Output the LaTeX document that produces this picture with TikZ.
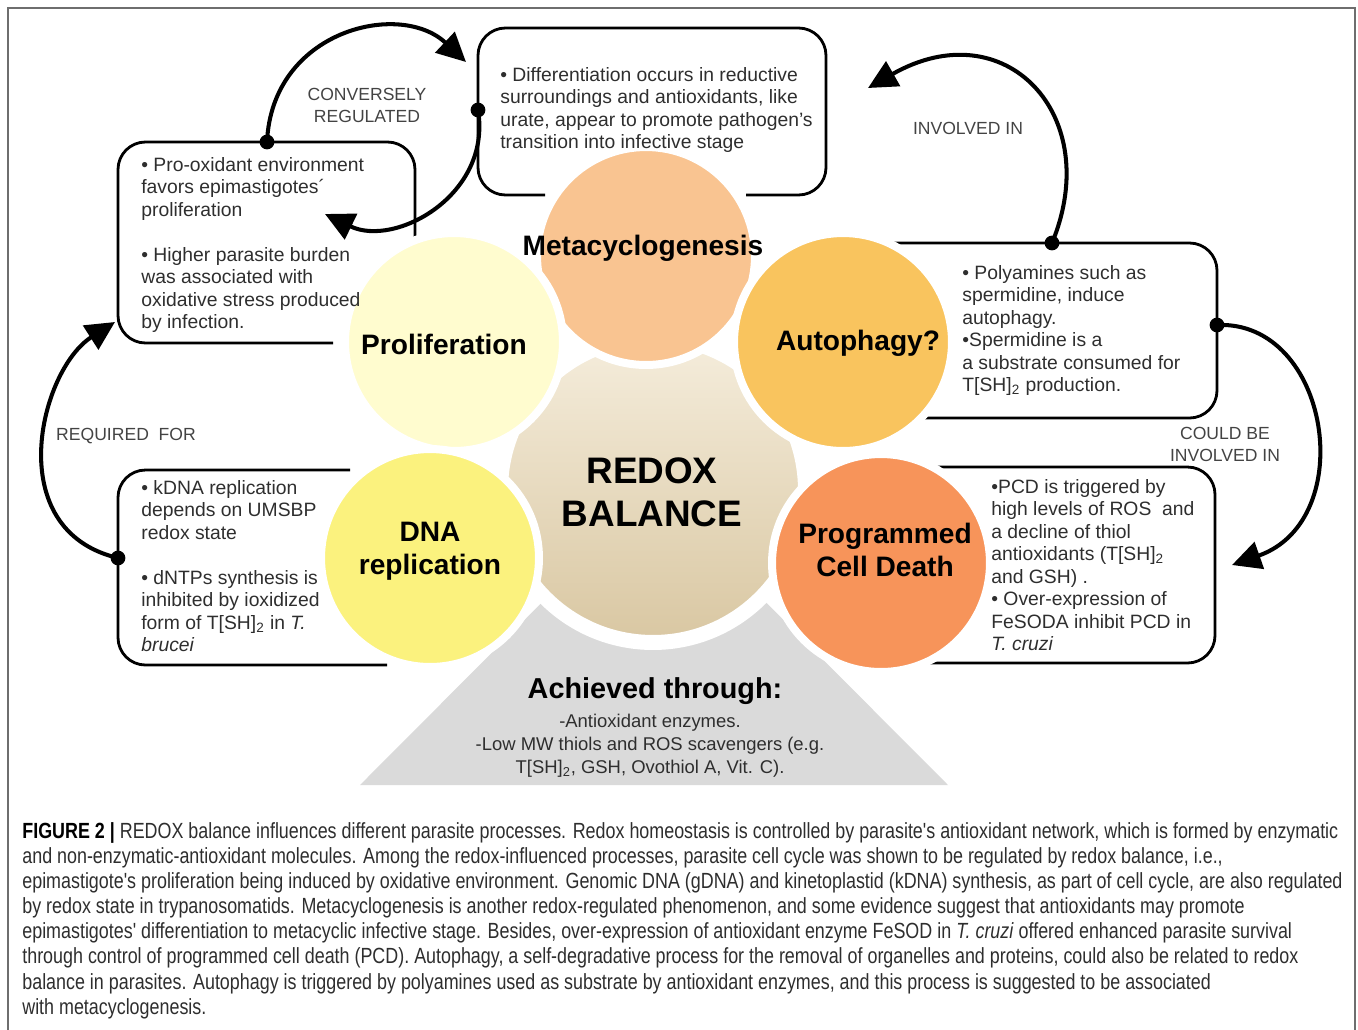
\documentclass[tikz,border=0pt]{standalone}
\usepackage{fontspec}
\setmainfont{Liberation Sans}
\newfontfamily\capfont[FakeStretch=0.815]{Liberation Sans}
\usetikzlibrary{arrows.meta,positioning,shapes.geometric}
\definecolor{metacol}{HTML}{F9C491}
\definecolor{procol}{HTML}{FFFCCF}
\definecolor{autocol}{HTML}{F9C45E}
\definecolor{dnacol}{HTML}{FBF27E}
\definecolor{pcdcol}{HTML}{F7945A}
\definecolor{redoxtop}{HTML}{F5EDDC}
\definecolor{redoxbottom}{HTML}{D9C7A2}
\definecolor{basegray}{HTML}{DADADA}
\definecolor{framegray}{HTML}{6E6E6E}
\definecolor{inkgray}{HTML}{2E2E2E}
\tikzset{>={Triangle[length=0.58cm,width=0.56cm]}}
\tikzset{process/.style={circle,draw=white,line width=0.16cm,minimum size=4.36cm,inner sep=0pt}}
\tikzset{processlabel/.style={align=center,inner sep=0pt,font=\fontsize{16}{18.8}\selectfont\bfseries}}
\tikzset{infotext/.style={anchor=north west,align=left,inner sep=0pt,text=inkgray,font=\fontsize{11}{12.8}\selectfont}}
\tikzset{linklabel/.style={align=center,inner sep=0pt,text=inkgray!90,font=\fontsize{10}{12.5}\selectfont}}
\tikzset{boxline/.style={line width=1.6pt,rounded corners=0.55cm}}
\tikzset{linkarrow/.style={->,line width=2.3pt}}

\begin{document}
\begin{tikzpicture}[x=0.02cm,y=-0.02cm]
\useasboundingbox (0,0) rectangle (1358,1029);
\draw[framegray,line width=1.5pt] (8,1040) -- (8,8) -- (1355,8) -- (1355,1040);

\fill[basegray] (360,785) -- (948,785) -- (654,490) -- cycle;
\node[circle,draw=white,line width=0.3cm,minimum size=6.1cm,top color=redoxtop,bottom color=redoxbottom] (redox) at (653,490) {};

\draw[boxline] (545,195) -- (478,195) -- (478,28) -- (826,28) -- (826,195) -- (746,195);
\draw[boxline] (333,343) -- (118,343) -- (118,142) -- (415,142) -- (415,237);
\draw[boxline] (350,470) -- (118,470) -- (118,665) -- (387,665);
\draw[boxline] (880,243) -- (1217,243) -- (1217,418) -- (912,418);
\draw[boxline] (933,467) -- (1215,467) -- (1215,663) -- (907,663);

\node[process,fill=metacol] (meta) at (646,256) {};
\node[process,fill=procol] (prolif) at (454,342) {};
\node[process,fill=autocol] (auto) at (843,342) {};
\node[process,fill=dnacol] (dna) at (430,558) {};
\node[process,fill=pcdcol] (pcd) at (881,563) {};

\node[processlabel] (metalab) at (643,248) {Metacyclogenesis};
\node[processlabel] (prolab) at (444,344) {Proliferation};
\node[processlabel] (autolab) at (858,343) {Autophagy?};
\node[processlabel] (dnalab) at (430,551) {DNA\\replication};
\node[processlabel] (pcdlab) at (885,550) {Programmed\\Cell Death};
\node[align=center,inner sep=0pt,font=\fontsize{21}{24.4}\selectfont\bfseries] (redoxlab) at (652,492) {REDOX\\BALANCE};

\node[inner sep=0pt,font=\fontsize{16.4}{19}\selectfont\bfseries] (achieved) at (655,691) {Achieved through:};
\node[align=center,inner sep=0pt,text=inkgray,font=\fontsize{10.5}{13}\selectfont] (means) at (650,746) {-Antioxidant enzymes.\\-Low MW thiols and ROS scavengers (e.g.\\T[SH]\textsubscript{2}, GSH, Ovothiol A, Vit. C).};

\node[infotext] (metatext) at (500,67) {• Differentiation occurs in reductive\\surroundings and antioxidants, like\\urate, appear to promote pathogen's\\transition into infective stage};
\node[infotext] (protext) at (141,157) {• Pro-oxidant environment\\favors epimastigotes´\\proliferation\\[12.8pt]• Higher parasite burden\\was associated with\\oxidative stress produced\\by infection.};
\node[infotext] (autotext) at (962,265) {• Polyamines such as\\spermidine, induce\\autophagy.\\•Spermidine is a\\a substrate consumed for\\T[SH]\textsubscript{2} production.};
\node[infotext] (pcdtext) at (991,479) {•PCD is triggered by\\high levels of ROS\ \ and\\a decline of thiol\\antioxidants (T[SH]\textsubscript{2}\\and GSH)\ .\\• Over-expression of\\FeSODA inhibit PCD in\\\textit{T. cruzi}};
\node[infotext] (dnatext) at (141,480) {• kDNA replication\\depends on UMSBP\\redox state\\[12.8pt]• dNTPs synthesis is\\inhibited by ioxidized\\form of T[SH]\textsubscript{2} in \textit{T.}\\\textit{brucei}};

\node[linklabel] (convlab) at (367,105) {CONVERSELY\\REGULATED};
\node[linklabel] (invlab) at (968,128) {INVOLVED IN};
\node[linklabel] (couldlab) at (1225,444) {COULD BE\\INVOLVED IN};
\node[linklabel] (reqlab) at (126,436) {REQUIRED\ \ FOR};

\coordinate (convA) at (267,142);
\coordinate (convAtip) at (466,62);
\coordinate (convB) at (478,110);
\coordinate (convBtip) at (325,214);
\coordinate (invA) at (1052,243);
\coordinate (invAtip) at (868,88);
\coordinate (couldA) at (1217,325);
\coordinate (couldAtip) at (1232,565);
\coordinate (reqA) at (118,558);
\coordinate (reqAtip) at (115,322);
\draw[linkarrow] (convA) .. controls (272,30) and (400,0) .. (convAtip);
\draw[linkarrow] (convB) .. controls (492,195) and (395,248) .. (convBtip);
\draw[linkarrow] (invA) .. controls (1105,115) and (1005,10) .. (invAtip);
\draw[linkarrow] (couldA) .. controls (1330,320) and (1360,520) .. (couldAtip);
\draw[linkarrow] (reqA) .. controls (0,530) and (40,370) .. (reqAtip);
\foreach \dot in {convA,convB,invA,couldA,reqA}
  \fill (\dot) circle[radius=4.2pt];

\node[anchor=north west,align=left,inner sep=0pt,text=inkgray,font=\capfont\fontsize{12.5}{14.3}\selectfont] (caption) at (22,822)
{\textcolor{black}{\textbf{FIGURE 2 |}} REDOX balance influences different parasite processes. Redox homeostasis is controlled by parasite's antioxidant network, which is formed by enzymatic\\
and non-enzymatic-antioxidant molecules. Among the redox-influenced processes, parasite cell cycle was shown to be regulated by redox balance, i.e.,\\
epimastigote's proliferation being induced by oxidative environment. Genomic DNA (gDNA) and kinetoplastid (kDNA) synthesis, as part of cell cycle, are also regulated\\
by redox state in trypanosomatids. Metacyclogenesis is another redox-regulated phenomenon, and some evidence suggest that antioxidants may promote\\
epimastigotes' differentiation to metacyclic infective stage. Besides, over-expression of antioxidant enzyme FeSOD in \textit{T. cruzi} offered enhanced parasite survival\\
through control of programmed cell death (PCD). Autophagy, a self-degradative process for the removal of organelles and proteins, could also be related to redox\\
balance in parasites. Autophagy is triggered by polyamines used as substrate by antioxidant enzymes, and this process is suggested to be associated\\
with metacyclogenesis.};
\end{tikzpicture}
\end{document}
